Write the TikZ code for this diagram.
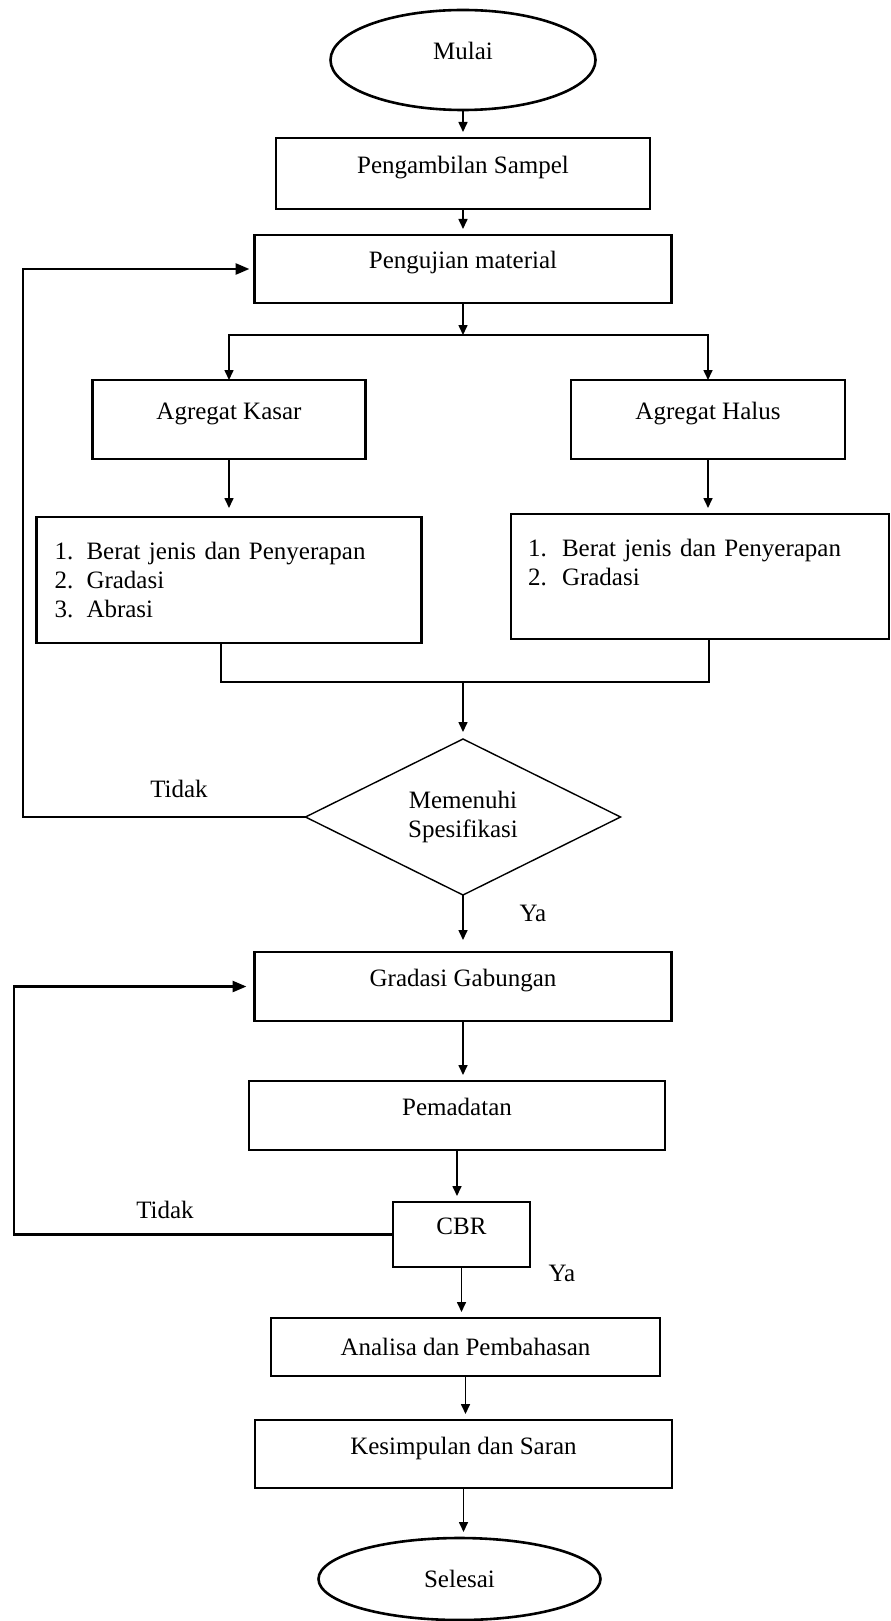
\documentclass[tikz,border=0pt]{standalone}
\usepackage{fontspec}
\setmainfont{Liberation Serif}
\usepackage{tikz}
\usetikzlibrary{positioning, shapes.geometric, arrows.meta, calc}

\begin{document}
\begin{tikzpicture}[x=0.5pt, y=-0.5pt, font=\fontsize{12.5}{14.5}\selectfont,
 kotak/.style={draw, line width=1.3pt, inner sep=0pt, outer sep=0pt, text height=9pt, text depth=9pt},
 ujung/.style={draw, ellipse, line width=1.3pt, inner sep=0pt, outer sep=0pt},
 daftar/.style={draw, line width=1.3pt, align=left, inner xsep=9pt, outer sep=0pt},
 putusan/.style={draw, diamond, aspect=2, line width=0.7pt, align=center, inner sep=0pt, outer sep=0pt},
 panah/.style={-{Triangle[length=5pt, width=4.5pt]}, line width=0.8pt, shorten >=3pt},
 balik/.style={-{Triangle[length=7pt, width=5.5pt]}, line width=1.3pt},
 garis/.style={line width=1.2pt}]
\useasboundingbox[fill=white] (0,0) rectangle (890,1621);

\node[ujung, minimum width=132.5pt, minimum height=50pt, text height=9pt, text depth=9pt](mulai) at (463,60){Mulai};
\node[kotak, minimum width=187pt, minimum height=35.5pt, below=14pt of mulai](sampel){Pengambilan Sampel};
\node[kotak, minimum width=208.5pt, minimum height=34pt, below=13pt of sampel](uji){Pengujian material};

\node[kotak, minimum width=136.5pt, minimum height=39.5pt](kasar) at (229,419.5){Agregat Kasar};
\node[kotak, minimum width=137pt, minimum height=39.5pt](halus) at (708,419.5){Agregat Halus};
\node[daftar, text width=174.5pt, minimum height=63pt, below=29pt of kasar](ujikasar)
 {\makebox[16pt][l]{1.}Berat jenis dan Penyerapan\\ \makebox[16pt][l]{2.}Gradasi\\ \makebox[16pt][l]{3.}Abrasi};
\node[daftar, text width=172pt, inner xsep=8.5pt, minimum height=62.5pt, below=27.5pt of halus, xshift=-4pt](ujihalus)
 {\makebox[17pt][l]{1.}Berat jenis dan Penyerapan\\ \makebox[17pt][l]{2.}Gradasi\\ \mbox{}};

\node[putusan, minimum width=157.5pt, minimum height=78pt](spek) at (463,817){Memenuhi\\Spesifikasi};
\node[kotak, minimum width=208.5pt, minimum height=34.5pt, below=28.5pt of spek](gabungan){Gradasi Gabungan};
\node[kotak, minimum width=208pt, minimum height=34.5pt, below=30pt of gabungan, xshift=-3pt](padat){Pemadatan};
\node[kotak, minimum width=68.5pt, minimum height=32.5pt, below=26pt of padat, xshift=2.25pt](cbr){CBR};
\node[kotak, minimum width=194.5pt, minimum height=29pt, text height=, text depth=, below=25.5pt of cbr, xshift=2pt](analisa){Analisa dan Pembahasan};
\node[kotak, minimum width=208.5pt, minimum height=34pt, below=22pt of analisa, xshift=-1pt](simpul){Kesimpulan dan Saran};
\node[ujung, minimum width=141pt, minimum height=41pt, below=25pt of simpul, xshift=-2pt](selesai){Selesai};

\node(tidak1) at (179,789){Tidak};
\node(ya1) at (533,913){Ya};
\node(tidak2) at (165,1210){Tidak};
\node(ya2) at (562,1273){Ya};

\foreach \a/\b in {mulai/sampel,sampel/uji,gabungan/padat,padat/cbr,cbr/analisa,analisa/simpul,simpul/selesai}
  {\draw[panah](\a)--(\a |- \b.north);}

% cabang ke dua jenis agregat
\coordinate(cabang) at (463,335);
\draw[panah, shorten >=0pt](uji)--(cabang);
\draw[panah, shorten >=0pt](cabang)-|(kasar);
\draw[panah, shorten >=0pt](cabang)-|(halus);
\draw[panah, shorten >=4.5pt](kasar)--(ujikasar);
\draw[panah](halus)--(halus |- ujihalus.north);

% gabung lagi
\coordinate(gabkiri) at (221,682);
\coordinate(gabkanan) at (709,682);
\coordinate(gab) at (463,682);
\draw[garis](ujikasar.south -| gabkiri)--(gabkiri)--(gabkanan)--(ujihalus.south -| gabkanan);
\draw[panah, shorten >=3.5pt](gab)--(spek);
\draw[panah, shorten >=6pt](spek)--(gabungan);

% kembali bila tidak
\coordinate(kiri1) at (23,817);
\draw[balik, shorten >=2.5pt](spek.west)--(spek.west -| kiri1)|-(uji.west);
\coordinate(kiri2) at (14,1234);
\draw[balik, shorten >=4pt](cbr.west)--(cbr.west -| kiri2)|-(gabungan.west);

\end{tikzpicture}
\end{document}
